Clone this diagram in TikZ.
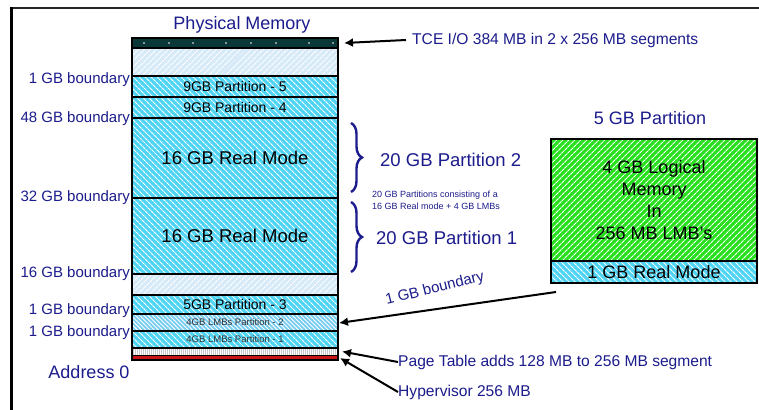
\documentclass[tikz,border=0pt]{standalone}
\usepackage{fontspec}
\setmainfont{Liberation Sans}
\usetikzlibrary{patterns.meta,decorations.pathreplacing,arrows.meta}
\definecolor{navy}{RGB}{28,28,140}
\definecolor{cyanfill}{RGB}{80,212,244}
\definecolor{lmbfill}{RGB}{120,205,240}
\definecolor{palefill}{RGB}{214,234,248}
\definecolor{greenfill}{RGB}{40,224,30}
\definecolor{tcefill}{RGB}{10,55,55}
\definecolor{hypred}{RGB}{200,20,20}
\newcommand\fs[1]{\fontsize{#1}{#1}\selectfont}
\begin{document}
\begin{tikzpicture}[x=1pt,y=-1pt,
  band/.style={draw=black,line width=1.8pt,minimum width=206pt,inner sep=0pt,outer sep=0pt,anchor=north west,font=\fs{14}},
  cyanhatch/.style={preaction={fill=cyanfill},preaction={pattern={Lines[angle=-45,distance=4pt,line width=1.2pt]},pattern color=white}},
  lmbhatch/.style={preaction={fill=lmbfill},preaction={pattern={Lines[angle=-45,distance=3pt,line width=0.9pt]},pattern color=white}},
  palehatch/.style={preaction={fill=palefill},preaction={pattern={Lines[angle=45,distance=4pt,line width=1.2pt]},pattern color=white}},
  greenhatch/.style={preaction={fill=greenfill},preaction={pattern={Lines[angle=45,distance=4pt,line width=1.2pt]},pattern color=white}},
  grayhatch/.style={preaction={fill=black!22},preaction={pattern={Lines[angle=90,distance=2pt,line width=0.6pt]},pattern color=white}},
  lbl/.style={text=navy,inner sep=0pt},
  bnd/.style={lbl,anchor=east,font=\fs{15}},
  arr/.style={line width=2pt,-{Latex[length=9pt,width=9pt]}},
  curly/.style={draw=navy,line width=2.4pt,decorate,decoration={brace,amplitude=11pt}}]
\useasboundingbox (0,0) rectangle (759,409);
\fill[white] (0,0) rectangle (759,409);
% frame
\draw[line width=2pt,black!85] (10,8) -- (760,8);
\draw[line width=3pt] (11,7) -- (11,410);

% physical memory column
\node[lbl,font=\fs{18}] (title) at (242,25) {Physical Memory};
\node[band,fill=tcefill,minimum height=10pt] (tce) at (132,38) {};
\foreach \dx in {144,169,193,226,251,276,309,333}
  \fill[white] (\dx,43) circle (0.8pt);
\node[band,palehatch,minimum height=28pt] (pale1) at (132,48) {};
\node[band,cyanhatch,minimum height=21pt] (p5) at (132,76) {9GB Partition - 5};
\node[band,cyanhatch,minimum height=21pt] (p4) at (132,97) {9GB Partition - 4};
\node[band,cyanhatch,minimum height=80pt,font=\fs{18.5}] (rm2) at (132,118) {16 GB Real Mode};
\node[band,cyanhatch,minimum height=76pt,font=\fs{18.5}] (rm1) at (132,198) {16 GB Real Mode};
\node[band,palehatch,line width=1.2pt,minimum height=21pt] (pale2) at (132,274) {};
\node[band,cyanhatch,minimum height=19pt] (p3) at (132,295) {5GB Partition - 3};
\node[band,lmbhatch,minimum height=17pt,font=\fs{9.5},text=black!80] (lmb2) at (132,314) {4GB LMBs Partition - 2};
\node[band,cyanhatch,minimum height=17pt,font=\fs{9.5},text=black!80] (lmb1) at (132,331) {4GB LMBs Partition - 1};
\node[band,grayhatch,line width=1pt,minimum height=7pt] (pt) at (132,348) {};
\node[band,line width=1pt,fill=hypred,minimum height=4pt] (hyp) at (132,355) {};
\draw[line width=2pt] (132,38) rectangle (338,359.5);

% boundary labels
\node[bnd] (b1) at (130,80) {1 GB boundary};
\node[bnd] (b48) at (130,119) {48 GB boundary};
\node[bnd] (b32) at (130,198) {32 GB boundary};
\node[bnd] (b16) at (130,274) {16 GB boundary};
\node[bnd] (b1c) at (130,311) {1 GB boundary};
\node[bnd] (b1d) at (130,333) {1 GB boundary};
\node[lbl,font=\fs{18}] (addr) at (89,372) {Address 0};

% partitions
\draw[curly] (351,123) -- (351,192);
\draw[curly] (351,202) -- (351,272);
\node[lbl,anchor=west,font=\fs{18.5}] (part2) at (380,160) {20 GB Partition 2};
\node[lbl,anchor=west,font=\fs{18.5}] (part1) at (376,238) {20 GB Partition 1};
\node[lbl,anchor=west,font=\fs{9},align=left] (note) at (372,200)
  {20 GB Partitions consisting of a\\[3pt]16 GB Real mode + 4 GB LMBs};

% 5 GB partition
\node[lbl,font=\fs{18}] (p5gb) at (650,118) {5 GB Partition};
\node[band,greenhatch,minimum height=122pt,font=\fontsize{18}{22}\selectfont,align=center] (lmbs) at (551,139)
  {4 GB Logical\\Memory\\In\\256 MB LMB's};
\node[band,cyanhatch,minimum height=22pt,font=\fs{18}] (rmode) at (551,261) {1 GB Real Mode};
\draw[line width=2pt] (551,139) rectangle (757,283);

% callouts
\node[lbl,anchor=west,font=\fs{15.6}] (tcel) at (412,40) {TCE I/O 384 MB in 2 x 256 MB segments};
\draw[arr] (tcel.west) ++(-6,0) coordinate (tcetail) -- ([xshift=6pt]tce.east);
\coordinate (gbtail) at (556,292);
\draw[arr] (gbtail) -- ([xshift=1pt,yshift=-0.5pt]lmb2.east);
\node[lbl,font=\fs{15},rotate=14] (gbl) at (435,289) {1 GB boundary};
\node[lbl,anchor=west,font=\fs{15.6}] (ptl) at (398,362) {Page Table adds 128 MB to 256 MB segment};
\draw[arr] (ptl.west) -- ([xshift=4pt]pt.east);
\node[lbl,anchor=west,font=\fs{15.6}] (hvl) at (398,392) {Hypervisor 256 MB};
\draw[arr] (hvl.west) -- ([xshift=2pt,yshift=-1pt]hyp.east);
\end{tikzpicture}
\end{document}
